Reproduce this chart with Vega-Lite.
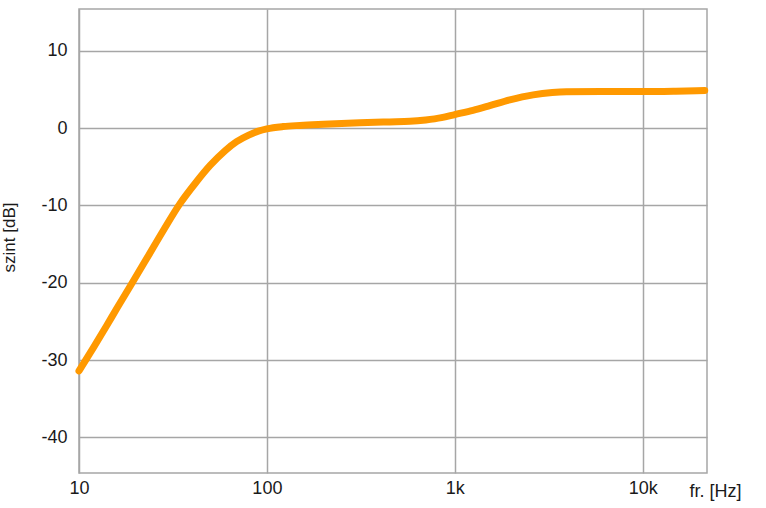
{
  "$schema": "https://vega.github.io/schema/vega-lite/v6.json",
  "autosize": "none",
  "width": 628,
  "height": 464,
  "padding": {"left": 79, "top": 9, "right": 59, "bottom": 35},
  "background": "white",
  "config": {
    "view": {"stroke": "#a6a6a6", "strokeWidth": 1.5},
    "font": "Liberation Sans"
  },
  "data": {
    "values": [
      {"f": 10, "db": -31.4},
      {"f": 12, "db": -28.3},
      {"f": 14, "db": -25.6},
      {"f": 16, "db": -23.2},
      {"f": 19, "db": -20.2},
      {"f": 23.4, "db": -16.5},
      {"f": 28, "db": -13.3},
      {"f": 34.4, "db": -9.8},
      {"f": 42, "db": -7.0},
      {"f": 50, "db": -4.8},
      {"f": 60, "db": -2.9},
      {"f": 69, "db": -1.75},
      {"f": 80, "db": -0.9},
      {"f": 90, "db": -0.4},
      {"f": 100, "db": -0.1},
      {"f": 122, "db": 0.2},
      {"f": 150, "db": 0.35},
      {"f": 200, "db": 0.5},
      {"f": 312, "db": 0.7},
      {"f": 450, "db": 0.8},
      {"f": 577, "db": 0.87},
      {"f": 700, "db": 1.05},
      {"f": 850, "db": 1.35},
      {"f": 1000, "db": 1.75},
      {"f": 1250, "db": 2.3},
      {"f": 1535, "db": 2.9},
      {"f": 1963, "db": 3.65},
      {"f": 2612, "db": 4.3},
      {"f": 3300, "db": 4.6},
      {"f": 3928, "db": 4.7},
      {"f": 6000, "db": 4.73},
      {"f": 10000, "db": 4.73},
      {"f": 15000, "db": 4.78},
      {"f": 21400, "db": 4.86}
    ]
  },
  "mark": {"type": "line", "color": "#ff9900", "strokeWidth": 7, "strokeCap": "round", "strokeJoin": "round", "interpolate": "monotone"},
  "encoding": {
    "x": {
      "field": "f",
      "type": "quantitative",
      "scale": {"type": "log", "domain": [10, 22000], "nice": false},
      "axis": {
        "values": [10, 100, 1000, 10000],
        "labelExpr": "datum.value >= 1000 ? (datum.value / 1000) + 'k' : datum.value + ''",
        "domain": false,
        "ticks": false,
        "tickSize": 0,
        "labelPadding": 6,
        "labelFontSize": 18,
        "labelColor": "#1a1a1a",
        "labelFlush": false,
        "grid": true,
        "gridColor": "#a6a6a6",
        "gridWidth": 1.5,
        "title": "fr. [Hz]",
        "titleFontSize": 18,
        "titleFontWeight": "normal",
        "titleColor": "#1a1a1a",
        "titleX": 636,
        "titleY": 23,
        "titleAlign": "center",
        "titleBaseline": "alphabetic"
      }
    },
    "y": {
      "field": "db",
      "type": "quantitative",
      "scale": {"domain": [-44.6, 15.4], "nice": false, "zero": false},
      "axis": {
        "values": [-40, -30, -20, -10, 0, 10],
        "labelExpr": "datum.value + ''",
        "domain": false,
        "ticks": false,
        "tickSize": 0,
        "labelPadding": 12,
        "labelFontSize": 18,
        "labelColor": "#1a1a1a",
        "grid": true,
        "gridColor": "#a6a6a6",
        "gridWidth": 1.5,
        "title": "szint [dB]",
        "titleFontSize": 17,
        "titleFontWeight": "normal",
        "titleColor": "#1a1a1a",
        "titleX": -65,
        "titleY": 228,
        "titleAngle": -90,
        "titleAlign": "center",
        "titleBaseline": "alphabetic"
      }
    }
  }
}
